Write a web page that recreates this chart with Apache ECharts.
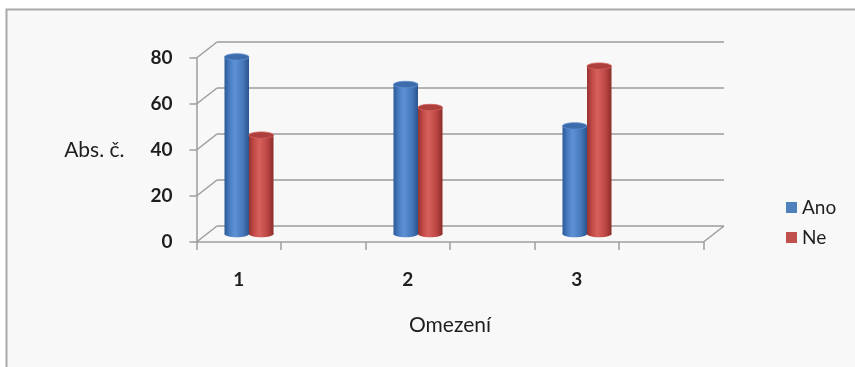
<!DOCTYPE html>
<html>
<head>
<meta charset="utf-8">
<title>Omezení</title>
<script src="https://cdn.jsdelivr.net/npm/echarts@6/dist/echarts.min.js"></script>
<style>
  html, body { margin: 0; padding: 0; background: #ffffff; }
  #chart { width: 855px; height: 367px; }
</style>
</head>
<body>
<div id="chart"></div>
<script>
// ---- data ----
const categories = ['1', '2', '3'];
const seriesNames = ['Ano', 'Ne'];
const anoValues = [77, 65, 47];
const neValues = [43, 55, 73];
const yTicks = [0, 20, 40, 60, 80];
const yTitle = 'Abs. č.';
const xTitle = 'Omezení';

// ---- look ----
const FONT = 'Lato, "Open Sans", sans-serif';
const TEXT = '#1e1e1e';
const LINE = '#9d9d9d';
const FRONT = { left: 196.5, top: 58, width: 507, height: 184 };
const DX = 20.5, DY = -16;          // depth of the oblique box
const BAR_FRAC = 0.29;              // cylinder width as a share of one slot

// each category sits in a slot followed by an empty one
const slots = [];
categories.forEach(c => { slots.push(c); slots.push(''); });

const palettes = [
  { base: '#4f81bd', body: ['#2b5a97', '#4a7ec3', '#5d92d4', '#4678bb', '#2a558d'], top: '#3c6cab', rim: '#5f8fcf' },
  { base: '#c0504d', body: ['#963331', '#c54c48', '#d6615c', '#bb4643', '#8d2e2b'], top: '#ad3f3c', rim: '#d4625e' }
];

function bodyGradient(p) {
  return new echarts.graphic.LinearGradient(0, 0, 1, 0, [
    { offset: 0, color: p.body[0] },
    { offset: 0.22, color: p.body[1] },
    { offset: 0.42, color: p.body[2] },
    { offset: 0.75, color: p.body[3] },
    { offset: 1, color: p.body[4] }
  ]);
}

function cylinderRenderer(side) {
  const p = palettes[side];
  return function (params, api) {
    const slot = api.value(0);
    const v = api.value(1);
    const topPt = api.coord([slot, v]);
    const basePt = api.coord([slot, 0]);
    const band = api.size([1, 0])[0];
    const w = band * BAR_FRAC;
    const rx = w / 2, ry = 3.2;
    const cx = topPt[0] + (side === 0 ? -rx : rx) + DX / 2;
    const yTop = topPt[1] + DY / 2;
    const yBase = basePt[1] + DY / 2;
    const grad = bodyGradient(p);
    return {
      type: 'group',
      children: [
        { type: 'ellipse', shape: { cx: cx, cy: yBase, rx: rx, ry: ry }, style: { fill: grad } },
        { type: 'rect', shape: { x: cx - rx, y: yTop, width: w, height: yBase - yTop }, style: { fill: grad } },
        { type: 'ellipse', shape: { cx: cx, cy: yTop, rx: rx, ry: ry }, style: { fill: p.top, stroke: p.rim, lineWidth: 0.8 } }
      ]
    };
  };
}

// diagonal edges joining the front axes to the back wall
function edgeRenderer(params, api) {
  const cs = params.coordSys;
  const y = api.coord([0, api.value(1)])[1];
  const children = [
    { type: 'line', shape: { x1: cs.x, y1: y, x2: cs.x + DX, y2: y + DY }, style: { stroke: LINE, lineWidth: 1.5 } }
  ];
  if (api.value(1) === 0) {
    children.push({ type: 'line', shape: { x1: cs.x + cs.width, y1: y, x2: cs.x + cs.width + DX, y2: y + DY }, style: { stroke: LINE, lineWidth: 1.5 } });
  }
  return { type: 'group', children: children };
}

const chart = echarts.init(document.getElementById('chart'), null, { renderer: 'canvas' });

chart.setOption({
  animation: false,
  backgroundColor: '#ffffff',
  color: palettes.map(p => p.base),
  textStyle: { fontFamily: FONT },
  graphic: [
    { type: 'rect', z: -100, shape: { x: 6.5, y: 9.5, width: 900, height: 400 }, style: { fill: '#f8f8f8', stroke: '#a9a9a9', lineWidth: 2 } }
  ],
  legend: {
    data: seriesNames,
    orient: 'vertical',
    left: 786,
    top: 198,
    padding: 0,
    itemWidth: 11,
    itemHeight: 11,
    itemGap: 11,
    icon: 'rect',
    selectedMode: false,
    textStyle: { fontFamily: FONT, fontSize: 19, color: TEXT }
  },
  grid: [
    { left: FRONT.left, top: FRONT.top, width: FRONT.width, height: FRONT.height },
    { left: FRONT.left + DX, top: FRONT.top + DY, width: FRONT.width, height: FRONT.height }
  ],
  xAxis: [
    {
      type: 'category', gridIndex: 0, data: slots, boundaryGap: true,
      axisLine: { show: true, lineStyle: { color: LINE, width: 1.5 } },
      axisTick: { show: true, length: 8, lineStyle: { color: LINE, width: 1.5 } },
      axisLabel: { interval: 0, margin: 28, fontFamily: FONT, fontSize: 19, fontWeight: 'bold', color: TEXT },
      name: xTitle, nameLocation: 'middle', nameGap: 73,
      nameTextStyle: { fontFamily: FONT, fontSize: 21, color: TEXT },
      splitLine: { show: false }
    },
    {
      type: 'category', gridIndex: 1, data: slots, boundaryGap: true, show: false
    }
  ],
  yAxis: [
    {
      type: 'value', gridIndex: 0, min: yTicks[0], max: yTicks[yTicks.length - 1],
      interval: yTicks[1] - yTicks[0],
      axisLine: { show: true, lineStyle: { color: LINE, width: 1.5 } },
      axisTick: { show: true, length: 7, lineStyle: { color: LINE, width: 1.5 } },
      axisLabel: { margin: 24, fontFamily: FONT, fontSize: 19, fontWeight: 'bold', color: TEXT },
      name: yTitle, nameLocation: 'middle', nameRotate: 0, nameGap: 72,
      nameTextStyle: { fontFamily: FONT, fontSize: 21, color: TEXT },
      splitLine: { show: false }
    },
    {
      type: 'value', gridIndex: 1, min: yTicks[0], max: yTicks[yTicks.length - 1],
      interval: yTicks[1] - yTicks[0],
      axisLine: { show: false }, axisTick: { show: false }, axisLabel: { show: false },
      splitLine: { show: true, lineStyle: { color: LINE, width: 1.5 } }
    }
  ],
  series: [
    {
      type: 'custom', name: 'edges', xAxisIndex: 0, yAxisIndex: 0, silent: true, z: 1,
      data: yTicks.map(v => [0, v]),
      renderItem: edgeRenderer
    },
    {
      type: 'custom', name: seriesNames[0], xAxisIndex: 0, yAxisIndex: 0, z: 5,
      itemStyle: { color: palettes[0].base },
      data: anoValues.map((v, i) => [i * 2, v]),
      renderItem: cylinderRenderer(0)
    },
    {
      type: 'custom', name: seriesNames[1], xAxisIndex: 0, yAxisIndex: 0, z: 5,
      itemStyle: { color: palettes[1].base },
      data: neValues.map((v, i) => [i * 2, v]),
      renderItem: cylinderRenderer(1)
    }
  ]
});
</script>
</body>
</html>
